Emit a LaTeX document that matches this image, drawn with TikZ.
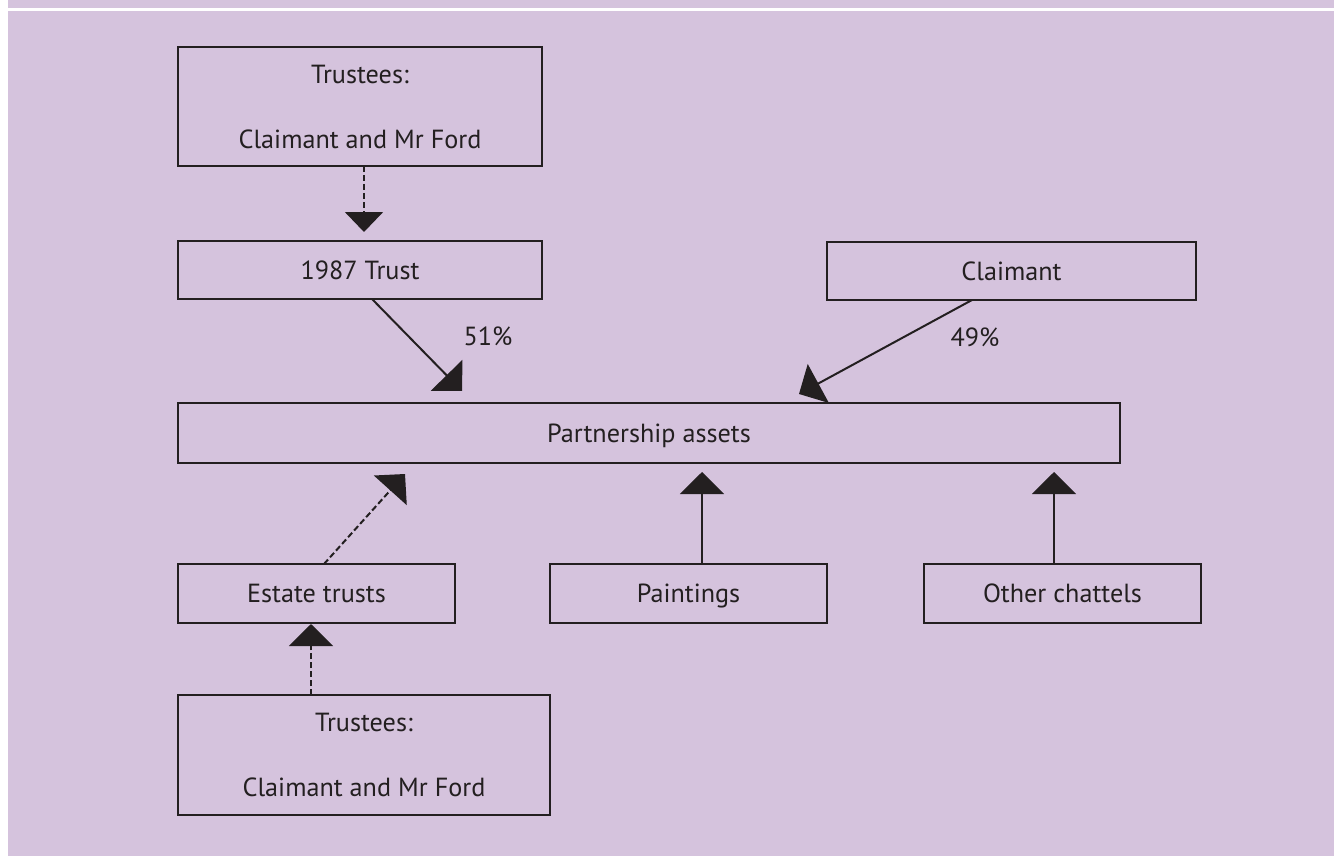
\documentclass[tikz,border=0pt]{standalone}
\usepackage{fontspec}
\setmainfont{PT Sans}
\usetikzlibrary{arrows.meta,calc}
\definecolor{bg}{RGB}{213,195,221}
\definecolor{ink}{RGB}{35,31,32}
\begin{document}
\begin{tikzpicture}[x=0.5pt,y=-0.5pt,
  box/.style={draw=ink, line width=1.25pt, inner sep=0pt, outer sep=0pt, text=ink, font=\fontsize{13.1}{16}\selectfont},
  one/.style={box, text height=9.2pt, text depth=0pt},
  two/.style={box, align=center, font=\fontsize{13.1}{32.5}\selectfont, text depth=0pt},
  conn/.style={draw=ink, line width=1pt, -{Triangle[length=11pt,width=22pt]}},
  dconn/.style={conn, dash pattern=on 3pt off 1.5pt},
  lbl/.style={text=ink, inner sep=0pt, font=\fontsize{13.1}{16}\selectfont}]
\useasboundingbox (0,0) rectangle (1334,856);
\fill[white] (0,0) rectangle (1334,856);
\fill[bg] (8,0) rectangle (1334,856);
\fill[white] (8,8) rectangle (1334,11);

\node[two, minimum width=182pt, minimum height=59.5pt] (t1) at (360,106.5) {Trustees:\\Claimant and Mr Ford};
\node[one, minimum width=182pt, minimum height=29pt] (trust) at (360,270) {1987 Trust};
\node[one, minimum width=184.5pt, minimum height=29pt] (claim) at (1011.5,271) {Claimant};
\node[one, minimum width=471pt, minimum height=30pt] (pa) at (649,433) {Partnership assets};
\node[one, minimum width=138.5pt, minimum height=29.5pt] (estate) at (316.5,593.5) {Estate trusts};
\node[one, minimum width=138.5pt, minimum height=29.5pt] (paint) at (688.5,593.5) {Paintings};
\node[one, minimum width=138.5pt, minimum height=29.5pt] (other) at (1062.5,593.5) {Other chattels};
\node[two, minimum width=186pt, minimum height=60pt] (t2) at (364,755) {Trustees:\\Claimant and Mr Ford};

\node[lbl] (p51) at (488,336) {51\%};
\node[lbl] (p49) at (975,337) {49\%};

\draw[dconn, -{Triangle[length=10pt,width=19pt]}] ($(t1.south)+(4,0)$) -- ($(trust.north)+(4,-9)$);
\draw[conn] ($(trust.south)+(12,0)$) -- ($(pa.north)+(-187,-12)$);
\draw[conn] ($(claim.south)+(-39.5,0)$) -- ($(pa.north)+(150,-9)$);
\draw[dconn] ($(estate.north)+(7.5,0)$) -- ($(pa.south)+(-244,11)$);
\draw[conn] ($(paint.north)+(13.5,0)$) -- ($(pa.south)+(53,9)$);
\draw[conn] ($(other.north)+(-8.5,0)$) -- ($(pa.south)+(405,9)$);
\draw[dconn] ($(t2.north)+(-53,0)$) -- ($(estate.south)+(-5.5,1)$);
\end{tikzpicture}
\end{document}
